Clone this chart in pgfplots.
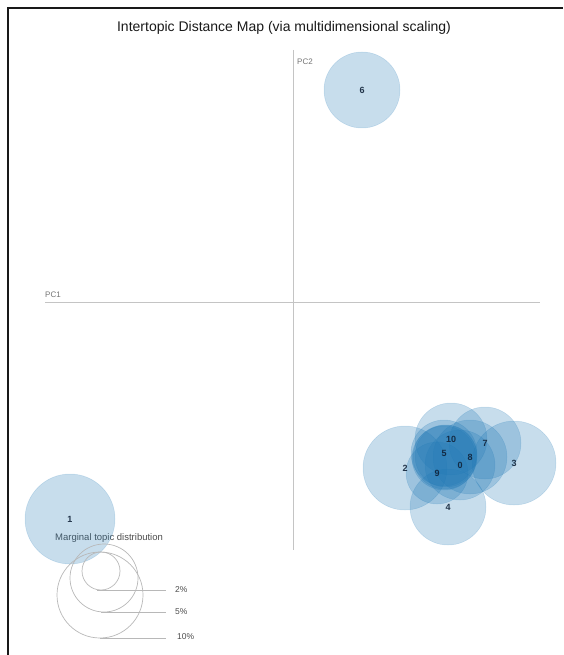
\documentclass[border=0pt]{standalone}
\usepackage{pgfplots}
\pgfplotsset{compat=1.18}
\usepackage{fontspec}
\setmainfont{Liberation Sans}
\definecolor{topicblue}{HTML}{1F77B4}
\definecolor{labelnavy}{HTML}{102238}
\definecolor{axisgray}{HTML}{C4C4C4}
\definecolor{legendgray}{HTML}{B8B8B8}

% topic circles: centre, radius (pt) and topic number
\pgfplotstableread{
x    y    r   label
70   519  45  1
362  90   38  6
405  468  42  2
514  463  42  3
448  507  38  4
485  443  36  7
451  439  36  10
470  457  37  8
460  465  35  0
437  473  31  9
444  453  33  5
}\topics

% topics lying almost on top of each other in the dense core
\pgfplotstableread{
x    y    r
445  457  32
446  456  31
444  458  32
}\core

% size legend for the marginal topic distribution
\pgfplotstableread{
x    y    r
101  571  19
104  578  34
100  595  43
}\sizelegend

\begin{document}
\begin{tikzpicture}
\begin{axis}[
  scale only axis, width=563pt, height=655pt,
  xmin=0, xmax=563, ymin=0, ymax=655, y dir=reverse,
  enlargelimits=false,
  axis line style={draw=none}, ticks=none,
  topic/.style={scatter, only marks, mark=*,
    scatter/use mapped color={draw=topicblue, fill=topicblue},
    mark options={fill opacity=0.25, draw opacity=0.2, line width=0.5pt},
    visualization depends on={\thisrow{r} \as \rad},
    scatter/@pre marker code/.append style={/tikz/mark size=\rad}},
]
% principal component axes
\addplot[axisgray, line width=0.8pt] coordinates {(45,302) (540,302)};
\addplot[axisgray, line width=0.8pt] coordinates {(293,50) (293,550)};

% topic circles
\addplot[topic] table[x=x, y=y] {\topics};
\addplot[topic] table[x=x, y=y] {\core};

% topic numbers
\addplot[only marks, mark=none,
  point meta=explicit symbolic,
  nodes near coords,
  every node near coord/.style={anchor=center, inner sep=0pt,
    font=\fontsize{9}{9}\selectfont\bfseries, text=labelnavy, text opacity=0.9}]
  table[x=x, y=y, meta=label] {\topics};

% size legend circles
\addplot[scatter, only marks, mark=o,
  scatter/use mapped color={draw=legendgray},
  mark options={line width=0.7pt},
  visualization depends on={\thisrow{r} \as \rad},
  scatter/@pre marker code/.append style={/tikz/mark size=\rad}]
  table[x=x, y=y] {\sizelegend};
\addplot[legendgray, line width=0.7pt] coordinates {(97,590) (166,590)};
\addplot[legendgray, line width=0.7pt] coordinates {(101,612) (166,612)};
\addplot[legendgray, line width=0.7pt] coordinates {(100,638) (166,638)};

% frame
\draw[black!90, line width=2pt] (axis cs:8,655) -- (axis cs:8,8) -- (axis cs:563,8);

% texts
\node[text=black!90, font=\fontsize{14}{15}\selectfont] at (axis cs:284,28)
  {Intertopic Distance Map (via multidimensional scaling)};
\node[anchor=west, inner sep=0pt, text=black!55, font=\fontsize{8}{8}\selectfont] at (axis cs:45,295) {PC1};
\node[anchor=west, inner sep=0pt, text=black!55, font=\fontsize{8}{8}\selectfont] at (axis cs:297,62) {PC2};
\node[anchor=west, inner sep=0pt, text=black!70, font=\fontsize{9.5}{10}\selectfont] at (axis cs:55,538) {Marginal topic distribution};
\node[anchor=west, inner sep=0pt, text=black!70, font=\fontsize{8.5}{9}\selectfont] at (axis cs:175,590) {2\%};
\node[anchor=west, inner sep=0pt, text=black!70, font=\fontsize{8.5}{9}\selectfont] at (axis cs:175,612) {5\%};
\node[anchor=west, inner sep=0pt, text=black!70, font=\fontsize{8.5}{9}\selectfont] at (axis cs:177,637) {10\%};
\end{axis}
\end{tikzpicture}
\end{document}
